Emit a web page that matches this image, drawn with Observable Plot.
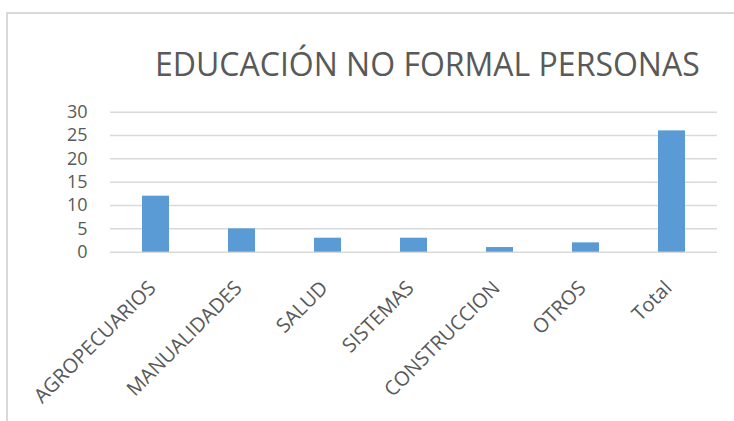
<!DOCTYPE html>
<html><head><meta charset="utf-8">
<script src="https://cdn.jsdelivr.net/npm/d3@7"></script>
<script src="https://cdn.jsdelivr.net/npm/@observablehq/plot@0.6"></script>
<style>
html,body{margin:0;padding:0;background:#fff;}
body{width:734px;height:421px;overflow:hidden;position:relative;font-family:"Open Sans",sans-serif;}
#border{position:absolute;left:6px;top:12px;width:800px;height:500px;border-top:2px solid #d9d9d9;border-left:2px solid #d9d9d9;box-sizing:border-box;}
#title{position:relative;height:96px;margin:0;padding:48px 0 0 155px;box-sizing:border-box;font-size:32px;line-height:32px;color:#595959;font-weight:400;white-space:nowrap;}
#chart{position:relative;}
</style></head><body>
<div id="border"></div>
<div id="title">EDUCACIÓN NO FORMAL PERSONAS</div>
<div id="chart"></div>
<script>
const categories = ["AGROPECUARIOS","MANUALIDADES","SALUD","SISTEMAS","CONSTRUCCION","OTROS","Total"];
const values = [12,5,3,3,1,2,26];
const yTicks = [0,5,10,15,20,25,30];
const data = categories.map((c,i)=>({categoria:c, personas:values[i]}));
const chart = Plot.plot({
  width:734, height:325, marginTop:15.7, marginBottom:169.3, marginLeft:110, marginRight:17,
  style:{fontFamily:'"Open Sans", sans-serif', fontSize:"18px", color:"#595959", background:"transparent", overflow:"visible"},
  x:{domain:categories, paddingInner:0.685, paddingOuter:0.3425, axis:null},
  y:{domain:[0,30]},
  marks:[
    Plot.gridY(yTicks,{stroke:"#d9d9d9", strokeOpacity:1, strokeWidth:1.5}),
    Plot.axisY(yTicks,{tickSize:0, tickPadding:23, label:null, fill:"#595959", fontSize:18}),
    Plot.barY(data,{x:"categoria", y:"personas", fill:"#5B9BD5"}),
    Plot.text(categories,{x:d=>d, frameAnchor:"bottom", rotate:-45, textAnchor:"end", lineAnchor:"top", dx:-9, dy:27, fontSize:20, fill:"#595959"})
  ]
});
document.getElementById("chart").appendChild(chart);
</script>
</body></html>
